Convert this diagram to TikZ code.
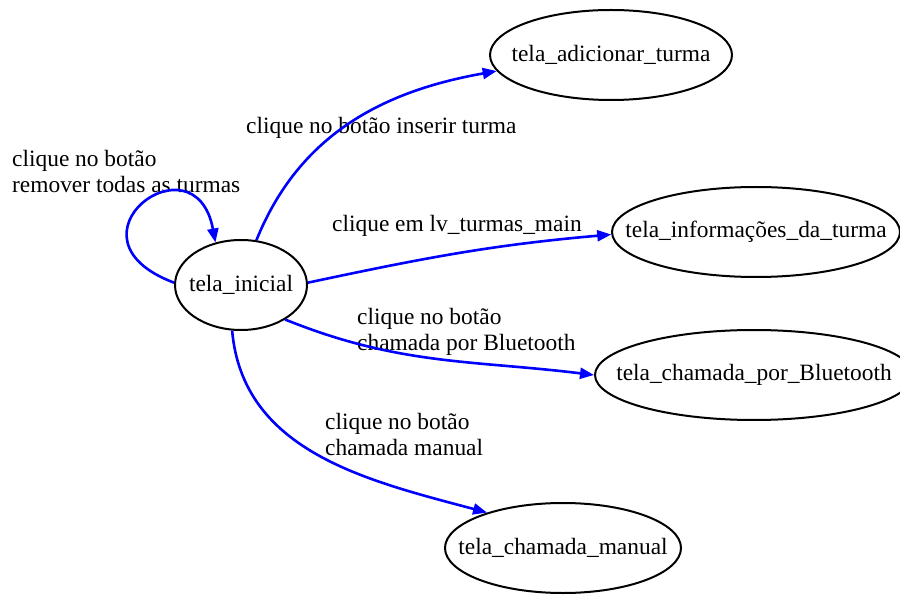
\documentclass[tikz,border=0pt]{standalone}
\usepackage{fontspec}
\setmainfont{Liberation Serif}
\usepackage{xcolor}
\usetikzlibrary{shapes.geometric,arrows.meta}
\definecolor{transcolor}{RGB}{0, 0, 255}

\begin{document}
\begin{tikzpicture}[
    x=1pt, y=1pt,
    font=\fontsize{23.4}{26}\selectfont,
    tela/.style={ellipse, draw, line width=2pt, inner sep=-30pt, minimum height=90pt},
    trans/.style={draw=transcolor, line width=2.6pt, -{Triangle[length=14pt,width=11pt]}},
    rotulo/.style={anchor=west, align=left, inner sep=0pt}
]
\useasboundingbox (0,0) rectangle (900,598);

\node[tela, minimum width=132pt] (inicial) at (241,313) {tela\_inicial};
\node[tela, minimum width=242pt] (adicionar) at (611,543) {tela\_adicionar\_turma};
\node[tela, minimum width=288pt] (informacoes) at (756,366) {tela\_informações\_da\_turma};
\node[tela, minimum width=318pt] (bluetooth) at (754,223) {tela\_chamada\_por\_Bluetooth};
\node[tela, minimum width=236pt] (manual) at (563,50) {tela\_chamada\_manual};

\node[rotulo] (l_inserir) at (246,470) {clique no botão inserir turma};
\node[rotulo] (l_remover) at (12,427) {clique no botão\\remover todas as turmas};
\node[rotulo] (l_lv) at (332,372) {clique em lv\_turmas\_main};
\node[rotulo] (l_bt) at (357,266) {clique no botão\\chamada por Bluetooth};
\node[rotulo] (l_manual) at (325,164) {clique no botão\\chamada manual};

\draw[trans] (inicial.178) .. controls (55,360) and (195,465) .. (inicial.121);
\draw[trans] (inicial.71) to[out=68,in=190] (adicionar.188);
\draw[trans] (inicial.2) to[out=12,in=185] (informacoes.181);
\draw[trans] (inicial.322) to[out=-22,in=173] (bluetooth.180);
\draw[trans] (inicial.259) to[out=-85,in=165] (manual.155);
\end{tikzpicture}
\end{document}
